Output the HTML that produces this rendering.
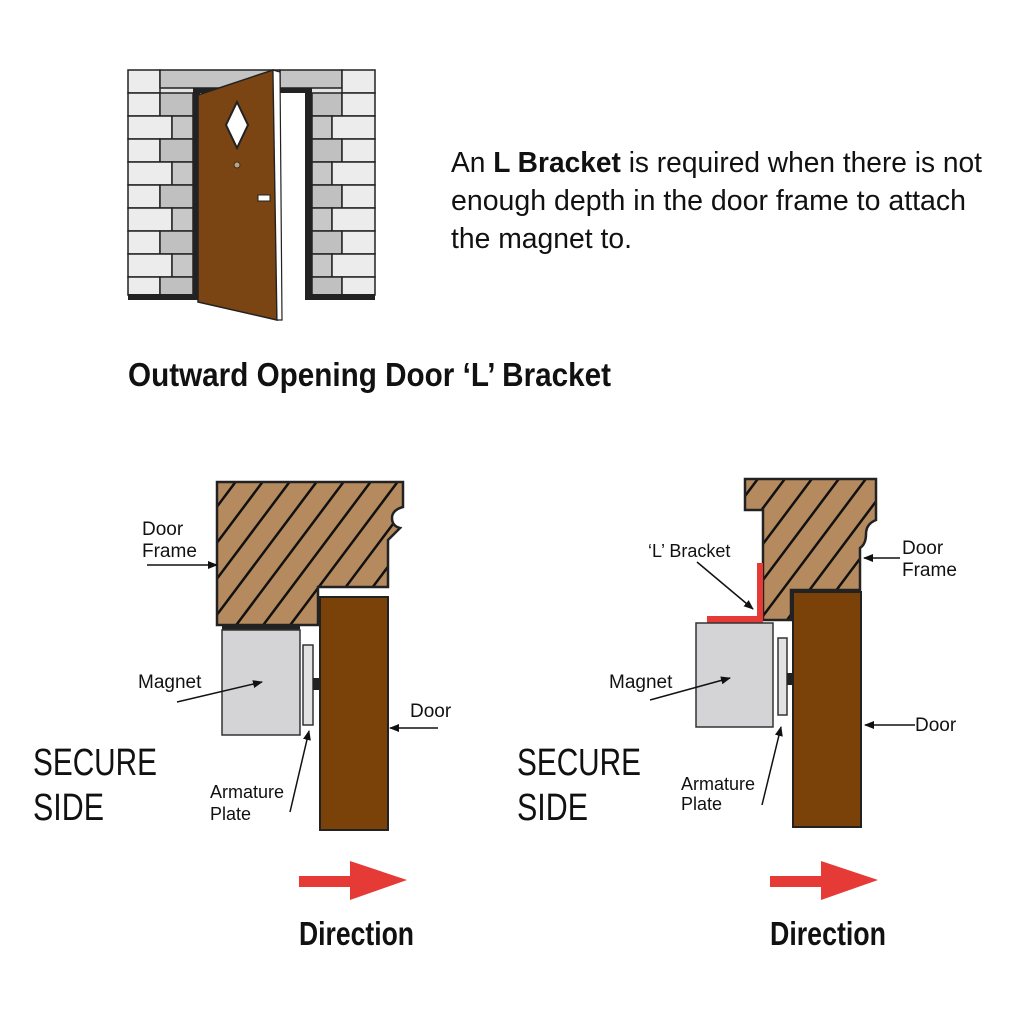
<!DOCTYPE html>
<html><head><meta charset="utf-8"><style>
html,body{margin:0;padding:0;background:#fff;}
svg{display:block;}
text{font-family:"Liberation Sans Narrow","Liberation Sans",sans-serif;fill:#111;}
</style></head><body>
<svg width="1024" height="1024" viewBox="0 0 1024 1024" xmlns="http://www.w3.org/2000/svg">
<defs>
<marker id="ah" markerWidth="10" markerHeight="8" refX="9" refY="4" orient="auto" markerUnits="userSpaceOnUse">
<path d="M0,0 L10,4 L0,8 z" fill="#111"/>
</marker>
<clipPath id="f1"><path d="M217,482 H403 V507 Q392,510 392,518 Q392,526 400,528 L388,540 V587 H318 V625 H217 Z"/></clipPath>
<clipPath id="f2"><path d="M745,479 H876 V520 Q866,524 866,534 Q866,544 860,548 V590 H791 V620 H763 V510 H745 Z"/></clipPath>
<pattern id="hatch" patternUnits="userSpaceOnUse" width="36" height="48" patternTransform="translate(0,0)">
</pattern>
</defs>
<rect width="1024" height="1024" fill="#fff"/>

<!-- top door illustration -->
<g stroke="#222" stroke-width="1.5">
<rect x="128" y="70" width="247" height="230" fill="#e4e4e4" stroke="none"/>
<rect x="128" y="70" width="32" height="23" fill="#ececec"/><rect x="160" y="70" width="120" height="18" fill="#c4c4c4"/>
<rect x="128" y="93" width="32" height="23" fill="#ececec"/><rect x="160" y="93" width="33" height="23" fill="#c0c0c0"/>
<rect x="128" y="116" width="44" height="23" fill="#ececec"/><rect x="172" y="116" width="21" height="23" fill="#c8c8c8"/>
<rect x="128" y="139" width="32" height="23" fill="#ececec"/><rect x="160" y="139" width="33" height="23" fill="#c0c0c0"/>
<rect x="128" y="162" width="44" height="23" fill="#ececec"/><rect x="172" y="162" width="21" height="23" fill="#c8c8c8"/>
<rect x="128" y="185" width="32" height="23" fill="#ececec"/><rect x="160" y="185" width="33" height="23" fill="#c0c0c0"/>
<rect x="128" y="208" width="44" height="23" fill="#ececec"/><rect x="172" y="208" width="21" height="23" fill="#c8c8c8"/>
<rect x="128" y="231" width="32" height="23" fill="#ececec"/><rect x="160" y="231" width="33" height="23" fill="#c0c0c0"/>
<rect x="128" y="254" width="44" height="23" fill="#ececec"/><rect x="172" y="254" width="21" height="23" fill="#c8c8c8"/>
<rect x="128" y="277" width="32" height="18" fill="#ececec"/><rect x="160" y="277" width="33" height="18" fill="#c0c0c0"/>
<rect x="280" y="70" width="62" height="18" fill="#c4c4c4"/><rect x="342" y="70" width="33" height="23" fill="#ececec"/>
<rect x="312" y="93" width="30" height="23" fill="#c0c0c0"/><rect x="342" y="93" width="33" height="23" fill="#ececec"/>
<rect x="312" y="116" width="20" height="23" fill="#c8c8c8"/><rect x="332" y="116" width="43" height="23" fill="#ececec"/>
<rect x="312" y="139" width="30" height="23" fill="#c0c0c0"/><rect x="342" y="139" width="33" height="23" fill="#ececec"/>
<rect x="312" y="162" width="20" height="23" fill="#c8c8c8"/><rect x="332" y="162" width="43" height="23" fill="#ececec"/>
<rect x="312" y="185" width="30" height="23" fill="#c0c0c0"/><rect x="342" y="185" width="33" height="23" fill="#ececec"/>
<rect x="312" y="208" width="20" height="23" fill="#c8c8c8"/><rect x="332" y="208" width="43" height="23" fill="#ececec"/>
<rect x="312" y="231" width="30" height="23" fill="#c0c0c0"/><rect x="342" y="231" width="33" height="23" fill="#ececec"/>
<rect x="312" y="254" width="20" height="23" fill="#c8c8c8"/><rect x="332" y="254" width="43" height="23" fill="#ececec"/>
<rect x="312" y="277" width="30" height="18" fill="#c0c0c0"/><rect x="342" y="277" width="33" height="18" fill="#ececec"/>
</g>
<rect x="193" y="88" width="119" height="212" fill="#222"/>
<rect x="200" y="93" width="105" height="207" fill="#fff"/>
<rect x="128" y="294" width="72" height="6" fill="#222"/>
<rect x="305" y="294" width="70" height="6" fill="#222"/>
<polygon points="198,95 273,70 277,320 198,302" fill="#7a4512" stroke="#222" stroke-width="1.5"/>
<polygon points="273,70 280,72 282,320 277,320" fill="#fff" stroke="#222" stroke-width="1.2"/>
<polygon points="237,102 248,125 237,148 226,125" fill="#fff" stroke="#222" stroke-width="2"/>
<circle cx="237" cy="165" r="3" fill="#c9a070" stroke="#333"/>
<rect x="258" y="195" width="12" height="6" fill="#fff" stroke="#222"/>

<text x="451" y="172" font-size="29" textLength="531" lengthAdjust="spacingAndGlyphs">An <tspan font-weight="bold">L Bracket</tspan> is required when there is not</text>
<text x="451" y="210" font-size="29" textLength="515" lengthAdjust="spacingAndGlyphs">enough depth in the door frame to attach</text>
<text x="451" y="248" font-size="29" textLength="181" lengthAdjust="spacingAndGlyphs">the magnet to.</text>
<text x="128" y="386" font-size="33" font-weight="bold" textLength="483" lengthAdjust="spacingAndGlyphs">Outward Opening Door ‘L’ Bracket</text>

<!-- left diagram -->
<path d="M217,482 H403 V507 Q392,510 392,518 Q392,526 400,528 L388,540 V587 H318 V625 H217 Z" fill="#b58a5e"/>
<g clip-path="url(#f1)" stroke="#111" stroke-width="2.5">
<line x1="90" y1="640" x2="240" y2="440"/><line x1="117" y1="640" x2="267" y2="440"/><line x1="144" y1="640" x2="294" y2="440"/>
<line x1="171" y1="640" x2="321" y2="440"/><line x1="198" y1="640" x2="348" y2="440"/><line x1="225" y1="640" x2="375" y2="440"/>
<line x1="252" y1="640" x2="402" y2="440"/><line x1="279" y1="640" x2="429" y2="440"/><line x1="306" y1="640" x2="456" y2="440"/>
<line x1="333" y1="640" x2="483" y2="440"/><line x1="360" y1="640" x2="510" y2="440"/><line x1="387" y1="640" x2="537" y2="440"/>
</g>
<path d="M217,482 H403 V507 Q392,510 392,518 Q392,526 400,528 L388,540 V587 H318 V625 H217 Z" fill="none" stroke="#222" stroke-width="2.5"/>
<rect x="222" y="625" width="78" height="6" fill="#222"/>
<rect x="222" y="630" width="78" height="105" fill="#d4d4d6" stroke="#333" stroke-width="1.5"/>
<rect x="303" y="645" width="10" height="80" fill="#e2e2e2" stroke="#333" stroke-width="1.5"/>
<rect x="313" y="678" width="7" height="12" fill="#222"/>
<rect x="320" y="597" width="68" height="233" fill="#7a4208" stroke="#222" stroke-width="2"/>

<g font-size="19">
<text x="142" y="535">Door</text><text x="142" y="557">Frame</text>
<text x="138" y="688">Magnet</text>
<text x="410" y="717">Door</text>
<text x="210" y="798" font-size="18">Armature</text><text x="210" y="820" font-size="18">Plate</text>
</g>
<g stroke="#111" stroke-width="1.5" fill="none" marker-end="url(#ah)">
<line x1="147" y1="565" x2="217" y2="565"/>
<line x1="177" y1="702" x2="262" y2="682"/>
<line x1="438" y1="728" x2="390" y2="728"/>
<line x1="290" y1="812" x2="309" y2="731"/>
</g>
<text x="33" y="775" font-size="38" textLength="124" lengthAdjust="spacingAndGlyphs">SECURE</text>
<text x="33" y="820" font-size="38" textLength="71" lengthAdjust="spacingAndGlyphs">SIDE</text>
<polygon points="299,876 350,876 350,861 407,880 350,900 350,887 299,887" fill="#e53a36"/>
<text x="299" y="945" font-size="33" font-weight="bold" textLength="115" lengthAdjust="spacingAndGlyphs">Direction</text>

<!-- right diagram -->
<path d="M745,479 H876 V520 Q866,524 866,534 Q866,544 860,548 V590 H791 V620 H763 V510 H745 Z" fill="#b58a5e"/>
<g clip-path="url(#f2)" stroke="#111" stroke-width="2.5">
<line x1="610" y1="640" x2="760" y2="440"/><line x1="637" y1="640" x2="787" y2="440"/><line x1="664" y1="640" x2="814" y2="440"/>
<line x1="691" y1="640" x2="841" y2="440"/><line x1="718" y1="640" x2="868" y2="440"/><line x1="745" y1="640" x2="895" y2="440"/>
<line x1="772" y1="640" x2="922" y2="440"/><line x1="799" y1="640" x2="949" y2="440"/><line x1="826" y1="640" x2="976" y2="440"/>
<line x1="853" y1="640" x2="1003" y2="440"/>
</g>
<path d="M745,479 H876 V520 Q866,524 866,534 Q866,544 860,548 V590 H791 V620 H763 V510 H745 Z" fill="none" stroke="#222" stroke-width="2.5"/>
<polygon points="757,563 763,563 763,623 707,623 707,616 757,616" fill="#e53a36"/>
<rect x="696" y="623" width="77" height="104" fill="#d4d4d6" stroke="#333" stroke-width="1.5"/>
<rect x="778" y="638" width="9" height="77" fill="#e2e2e2" stroke="#333" stroke-width="1.5"/>
<rect x="787" y="673" width="6" height="12" fill="#222"/>
<rect x="793" y="592" width="68" height="235" fill="#7a4208" stroke="#222" stroke-width="2"/>

<g font-size="19">
<text x="648" y="557" font-size="18">‘L’ Bracket</text>
<text x="902" y="554">Door</text><text x="902" y="576">Frame</text>
<text x="609" y="688">Magnet</text>
<text x="915" y="731">Door</text>
<text x="681" y="790" font-size="18">Armature</text><text x="681" y="810" font-size="18">Plate</text>
</g>
<g stroke="#111" stroke-width="1.5" fill="none" marker-end="url(#ah)">
<line x1="697" y1="562" x2="753" y2="609"/>
<line x1="900" y1="558" x2="864" y2="558"/>
<line x1="650" y1="700" x2="730" y2="678"/>
<line x1="915" y1="725" x2="865" y2="725"/>
<line x1="762" y1="805" x2="781" y2="727"/>
</g>
<text x="517" y="775" font-size="38" textLength="124" lengthAdjust="spacingAndGlyphs">SECURE</text>
<text x="517" y="820" font-size="38" textLength="71" lengthAdjust="spacingAndGlyphs">SIDE</text>
<polygon points="770,876 821,876 821,861 878,880 821,900 821,887 770,887" fill="#e53a36"/>
<text x="770" y="945" font-size="33" font-weight="bold" textLength="116" lengthAdjust="spacingAndGlyphs">Direction</text>
</svg>
</body></html>
